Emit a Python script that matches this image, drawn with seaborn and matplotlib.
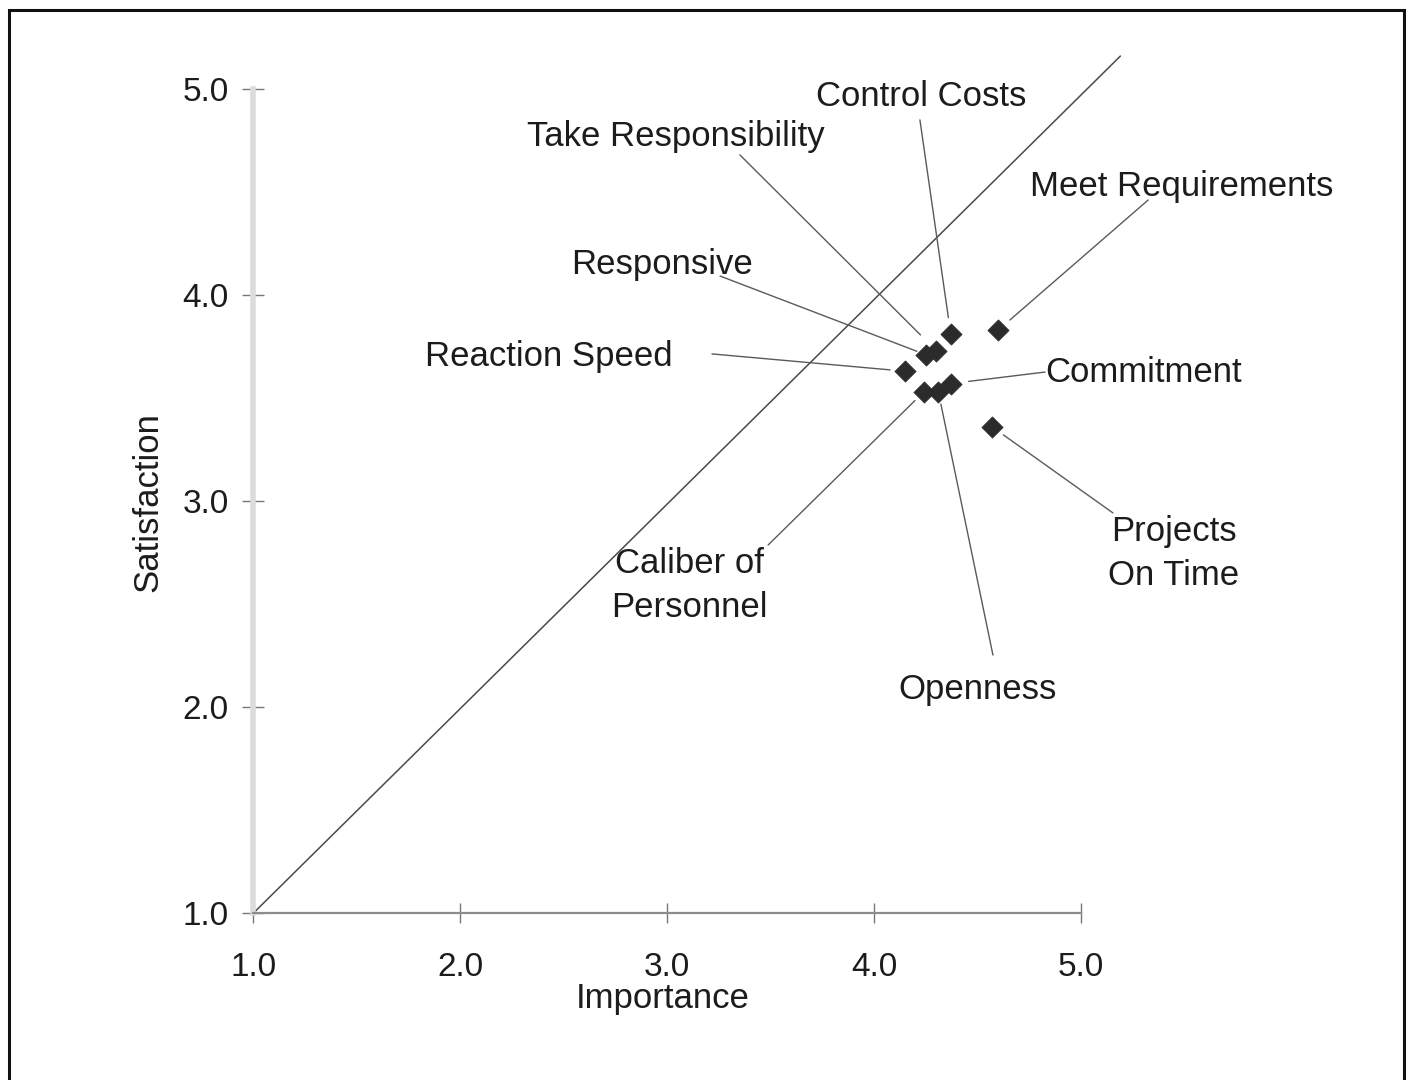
import matplotlib
matplotlib.use("Agg")
import matplotlib.pyplot as plt
import seaborn as sns
import pandas as pd
from matplotlib.patches import Rectangle

# Service attributes: importance vs. satisfaction ratings (1-5 scale)
attributes = ["Control Costs", "Meet Requirements", "Take Responsibility", "Responsive",
              "Reaction Speed", "Commitment", "Openness", "Caliber of\nPersonnel",
              "Projects\nOn Time"]
importance = [4.37, 4.60, 4.30, 4.25, 4.15, 4.37, 4.31, 4.24, 4.57]
satisfaction = [3.81, 3.83, 3.73, 3.71, 3.63, 3.57, 3.53, 3.53, 3.36]

tick_values = [1.0, 2.0, 3.0, 4.0, 5.0]
tick_labels = ["1.0", "2.0", "3.0", "4.0", "5.0"]

# Parity reference line
diag_x = [1.0, 5.19]
diag_y = [1.0, 5.16]

# Label placement: text position, leader-line start, gap at the marker (pt), alignment
label_layout = {
    "Control Costs":        ((4.226, 4.966), (4.221, 4.850), 12, "center"),
    "Meet Requirements":    ((5.488, 4.529), (5.324, 4.461), 11, "center"),
    "Take Responsibility":  ((3.042, 4.771), (3.351, 4.680), 16, "center"),
    "Responsive":           ((2.974, 4.150), (3.255, 4.092), 7, "center"),
    "Reaction Speed":       ((2.428, 3.703), (3.216, 3.714), 11, "center"),
    "Commitment":           ((4.826, 3.626), (4.826, 3.626), 13, "left"),
    "Openness":             ((4.502, 2.087), (4.574, 2.252), 9, "center"),
    "Caliber of\nPersonnel": ((3.105, 2.590), (3.487, 2.786), 9, "center"),
    "Projects\nOn Time":    ((5.449, 2.745), (5.154, 2.942), 10, "center"),
}

df = pd.DataFrame({"Attribute": attributes, "Importance": importance,
                   "Satisfaction": satisfaction})

sns.set_theme(style="white")
plt.rcParams["font.family"] = ["Liberation Sans", "DejaVu Sans"]

fig = plt.figure(figsize=(14.15, 10.8), dpi=100)
fig.patch.set_facecolor("white")
ax = fig.add_axes([0.17915, 0.15463, 0.62874, 0.80111])
ax.set_facecolor("white")
ax.set_xlim(1.0, 5.3)
ax.set_ylim(1.0, 5.2)

# Outer frame around the whole figure
fig.patches.append(Rectangle((9 / 1415, -0.02), (1404 - 9) / 1415, 1.02 - 10 / 1080,
                             transform=fig.transFigure, fill=False,
                             edgecolor="#111111", linewidth=2.2, zorder=10))

sns.lineplot(x=diag_x, y=diag_y, color="#4a4a4a", linewidth=1.1, ax=ax,
             sort=False, zorder=2)

sns.scatterplot(data=df, x="Importance", y="Satisfaction", marker="D", s=115,
                color="#2b2b2b", edgecolor="#2b2b2b", linewidth=0.6, ax=ax,
                zorder=4, legend=False)

text_color = "#1c1c1c"
for name, imp, sat in zip(attributes, importance, satisfaction):
    (tx, ty), (lx, ly), gap, ha = label_layout[name]
    ax.annotate("", xy=(imp, sat), xytext=(lx, ly),
                arrowprops=dict(arrowstyle="-", color="#5a5a5a", lw=1.0,
                                shrinkA=0, shrinkB=gap),
                annotation_clip=False, zorder=3)
    ax.text(tx, ty, name, ha=ha, va="center", fontsize=25, color=text_color,
            linespacing=1.4, clip_on=False)

# Axes styling
for side in ["top", "right"]:
    ax.spines[side].set_visible(False)
ax.spines["left"].set_bounds(1.0, 5.0)
ax.spines["left"].set_color("#dcdcdc")
ax.spines["left"].set_linewidth(4)
ax.spines["bottom"].set_bounds(1.0, 5.0)
ax.spines["bottom"].set_color("#8c8c8c")
ax.spines["bottom"].set_linewidth(1.6)
ax.plot([1.0, 1.0], [1.0, 5.0], color="#a8a8a8", linewidth=0.6,
        linestyle=(0, (6, 8)), zorder=1)

ax.set_xticks(tick_values)
ax.set_xticklabels(tick_labels)
ax.set_yticks(tick_values)
ax.set_yticklabels(tick_labels)
ax.tick_params(axis="y", left=True, direction="inout", length=16, width=1,
               color="#777777", pad=10, labelsize=24, labelcolor=text_color)
ax.tick_params(axis="x", bottom=True, direction="inout", length=14, width=1,
               color="#777777", pad=21, labelsize=24, labelcolor=text_color)

ax.set_xlabel("Importance", fontsize=25, color=text_color)
ax.set_ylabel("Satisfaction", fontsize=25, color=text_color)
ax.xaxis.set_label_coords(0.4603, -0.0800)
ax.yaxis.set_label_coords(-0.1006, 0.475)

fig.savefig("out.png", dpi=100)
